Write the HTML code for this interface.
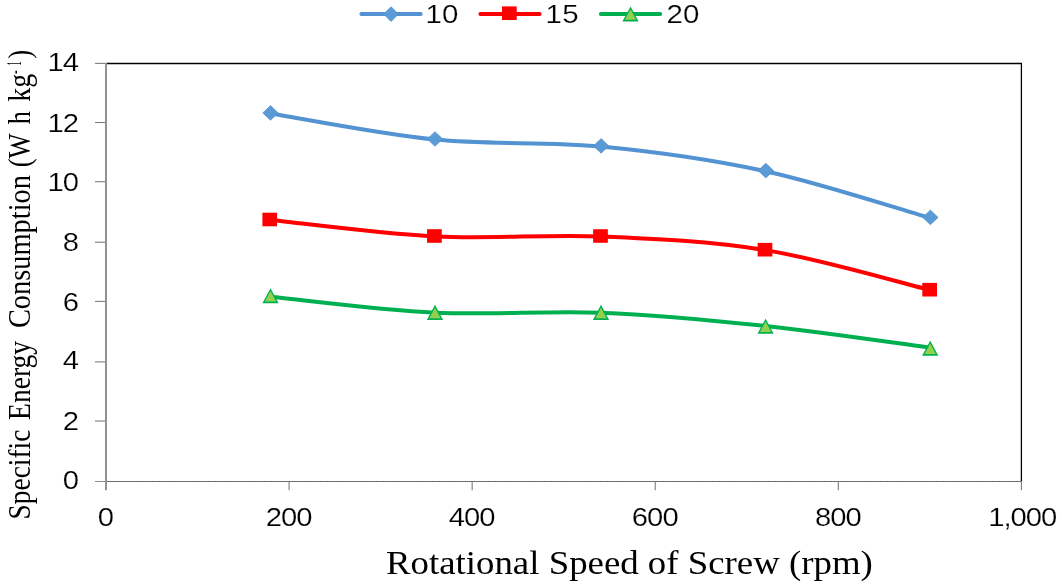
<!DOCTYPE html>
<html lang="en"><head><meta charset="utf-8"><title>Specific Energy Consumption vs Rotational Speed of Screw</title>
<style>html,body{margin:0;padding:0;background:#fff}body{width:1062px;height:587px;overflow:hidden}svg{display:block;will-change:transform}
.s{font-family:"Liberation Sans",sans-serif;fill:#000;stroke:#fff;stroke-width:0.2px}
.t{font-family:"Liberation Serif",serif;fill:#000}
</style></head><body>
<svg width="1062" height="587" viewBox="0 0 1062 587">
<rect width="1062" height="587" fill="#fff"/>
<path d="M106.00 63.50 H1021.40 V481.50" fill="none" stroke="#000" stroke-width="1.3"/>
<path d="M95 481.50 H1021.40" fill="none" stroke="#8e8e8e" stroke-width="1.2"/>
<path d="M106.5 481.50 H1021.40" fill="none" stroke="#555" stroke-width="1.2" stroke-dasharray="1 0.75"/>
<path d="M106.00 62.90 V490.2" fill="none" stroke="#929292" stroke-width="2"/>
<path d="M95 63.40 H105" stroke="#7d7d7d" stroke-width="1.1" fill="none"/>
<text class="s" transform="translate(77.92 71.20) scale(1.150 1)" font-size="25.4" letter-spacing="-0.85" text-anchor="end">14</text>
<path d="M95 122.50 H105" stroke="#7d7d7d" stroke-width="1.1" fill="none"/>
<text class="s" transform="translate(77.92 131.80) scale(1.150 1)" font-size="25.4" letter-spacing="-0.85" text-anchor="end">12</text>
<path d="M95 181.70 H105" stroke="#7d7d7d" stroke-width="1.1" fill="none"/>
<text class="s" transform="translate(77.92 190.80) scale(1.150 1)" font-size="25.4" letter-spacing="-0.85" text-anchor="end">10</text>
<path d="M95 242.20 H105" stroke="#7d7d7d" stroke-width="1.1" fill="none"/>
<text class="s" transform="translate(77.92 250.80) scale(1.150 1)" font-size="25.4" letter-spacing="-0.85" text-anchor="end">8</text>
<path d="M95 301.40 H105" stroke="#7d7d7d" stroke-width="1.1" fill="none"/>
<text class="s" transform="translate(77.92 310.50) scale(1.150 1)" font-size="25.4" letter-spacing="-0.85" text-anchor="end">6</text>
<path d="M95 361.90 H105" stroke="#7d7d7d" stroke-width="1.1" fill="none"/>
<text class="s" transform="translate(77.92 369.40) scale(1.150 1)" font-size="25.4" letter-spacing="-0.85" text-anchor="end">4</text>
<path d="M95 421.00 H105" stroke="#7d7d7d" stroke-width="1.1" fill="none"/>
<text class="s" transform="translate(77.92 430.00) scale(1.150 1)" font-size="25.4" letter-spacing="-0.85" text-anchor="end">2</text>
<text class="s" transform="translate(77.92 489.20) scale(1.150 1)" font-size="25.4" letter-spacing="-0.85" text-anchor="end">0</text>
<text class="s" transform="translate(105.51 526.40) scale(1.150 1)" font-size="25.4" letter-spacing="-0.85" text-anchor="middle">0</text>
<path d="M289.08 481.50 V490.2" stroke="#7d7d7d" stroke-width="1.1" fill="none"/>
<text class="s" transform="translate(288.59 526.40) scale(1.150 1)" font-size="25.4" letter-spacing="-0.85" text-anchor="middle">200</text>
<path d="M472.16 481.50 V490.2" stroke="#7d7d7d" stroke-width="1.1" fill="none"/>
<text class="s" transform="translate(471.67 526.40) scale(1.150 1)" font-size="25.4" letter-spacing="-0.85" text-anchor="middle">400</text>
<path d="M655.24 481.50 V490.2" stroke="#7d7d7d" stroke-width="1.1" fill="none"/>
<text class="s" transform="translate(654.75 526.40) scale(1.150 1)" font-size="25.4" letter-spacing="-0.85" text-anchor="middle">600</text>
<path d="M838.32 481.50 V490.2" stroke="#7d7d7d" stroke-width="1.1" fill="none"/>
<text class="s" transform="translate(837.83 526.40) scale(1.150 1)" font-size="25.4" letter-spacing="-0.85" text-anchor="middle">800</text>
<path d="M1021.40 481.50 V490.2" stroke="#7d7d7d" stroke-width="1.1" fill="none"/>
<text class="s" transform="translate(1022.21 526.40) scale(1.150 1)" font-size="25.4" letter-spacing="-0.85" text-anchor="middle">1,000</text>
<path d="M270.60 113.50 C298.03 117.85 380.17 134.10 435.20 139.60 C490.23 145.10 545.75 141.23 600.80 146.50 C655.85 151.77 710.62 159.28 765.50 171.20 C820.38 183.12 902.67 210.20 930.10 218.00" fill="none" stroke="#5393D2" stroke-width="4.0" stroke-linecap="round" stroke-linejoin="round"/>
<path d="M262.80 112.90 L270.50 105.60 L278.20 112.90 L270.50 120.20Z" fill="#5B9BD5" stroke="#4F8FCE" stroke-width="0.7"/>
<path d="M427.30 139.00 L435.00 131.70 L442.70 139.00 L435.00 146.30Z" fill="#5B9BD5" stroke="#4F8FCE" stroke-width="0.7"/>
<path d="M593.40 145.90 L601.10 138.60 L608.80 145.90 L601.10 153.20Z" fill="#5B9BD5" stroke="#4F8FCE" stroke-width="0.7"/>
<path d="M758.10 170.60 L765.80 163.30 L773.50 170.60 L765.80 177.90Z" fill="#5B9BD5" stroke="#4F8FCE" stroke-width="0.7"/>
<path d="M922.70 217.40 L930.40 210.10 L938.10 217.40 L930.40 224.70Z" fill="#5B9BD5" stroke="#4F8FCE" stroke-width="0.7"/>
<path d="M270.60 219.90 C298.03 222.65 380.17 233.65 435.20 236.40 C490.23 239.15 545.75 234.12 600.80 236.40 C655.85 238.68 710.62 241.15 765.50 250.10 C820.38 259.05 902.67 283.43 930.10 290.10" fill="none" stroke="#FF0000" stroke-width="4.0" stroke-linecap="round" stroke-linejoin="round"/>
<rect x="262.40" y="212.70" width="14.70" height="13.60" fill="#FF0000"/>
<rect x="427.05" y="229.20" width="14.70" height="13.60" fill="#FF0000"/>
<rect x="593.15" y="229.20" width="14.70" height="13.60" fill="#FF0000"/>
<rect x="757.65" y="242.90" width="14.70" height="13.60" fill="#FF0000"/>
<rect x="922.30" y="282.90" width="14.70" height="13.60" fill="#FF0000"/>
<path d="M270.60 296.70 C298.03 299.36 380.17 309.99 435.20 312.65 C490.23 315.31 545.75 310.42 600.80 312.65 C655.85 314.88 710.62 320.16 765.50 326.00 C820.38 331.84 902.67 344.08 930.10 347.70" fill="none" stroke="#00B050" stroke-width="4.0" stroke-linecap="round" stroke-linejoin="round"/>
<path d="M270.50 288.15 L278.60 303.25 L262.40 303.25Z" fill="#00B050"/><path d="M270.50 291.05 L276.13 301.55 L264.87 301.55Z" fill="#92D050"/>
<path d="M435.00 304.85 L443.10 319.95 L426.90 319.95Z" fill="#00B050"/><path d="M435.00 307.75 L440.63 318.25 L429.37 318.25Z" fill="#92D050"/>
<path d="M601.00 304.85 L609.10 319.95 L592.90 319.95Z" fill="#00B050"/><path d="M601.00 307.75 L606.63 318.25 L595.37 318.25Z" fill="#92D050"/>
<path d="M765.60 318.65 L773.70 333.75 L757.50 333.75Z" fill="#00B050"/><path d="M765.60 321.55 L771.23 332.05 L759.97 332.05Z" fill="#92D050"/>
<path d="M930.20 340.65 L938.30 355.75 L922.10 355.75Z" fill="#00B050"/><path d="M930.20 343.55 L935.83 354.05 L924.57 354.05Z" fill="#92D050"/>
<path d="M361.40 13.90 H420.70" stroke="#5393D2" stroke-width="4.0" stroke-linecap="round" fill="none"/>
<path d="M383.65 14.10 L391.05 6.70 L398.45 14.10 L391.05 21.50Z" fill="#5B9BD5" stroke="#4F8FCE" stroke-width="0.7"/>
<text class="s" transform="translate(425.50 23.2) scale(1.150 1)" font-size="25.6" letter-spacing="0.2">10</text>
<path d="M480.40 13.90 H539.60" stroke="#FF0000" stroke-width="4.0" stroke-linecap="round" fill="none"/>
<rect x="502.00" y="6.40" width="14.70" height="13.60" fill="#FF0000"/>
<text class="s" transform="translate(545.60 23.2) scale(1.150 1)" font-size="25.6" letter-spacing="0.2">15</text>
<path d="M600.90 13.90 H660.20" stroke="#00B050" stroke-width="4.0" stroke-linecap="round" fill="none"/>
<path d="M630.50 6.40 L638.60 21.50 L622.40 21.50Z" fill="#00B050"/><path d="M630.50 9.30 L636.13 19.80 L624.87 19.80Z" fill="#92D050"/>
<text class="s" transform="translate(666.40 23.2) scale(1.150 1)" font-size="25.6" letter-spacing="0.2">20</text>
<text class="t" transform="translate(386.0 573.9) scale(1.090 1)" font-size="33.8">Rotational Speed of Screw (rpm)</text>
<text class="t" transform="translate(30.00 519.40) rotate(-90) scale(0.9130 1.070)" font-size="30.0">Specific</text>
<text class="t" transform="translate(30.00 419.90) rotate(-90) scale(0.9175 1.070)" font-size="30.0">Energy</text>
<text class="t" transform="translate(30.00 328.10) rotate(-90) scale(0.9468 1.070)" font-size="30.0">Consumption</text>
<text class="t" transform="translate(30.00 167.30) rotate(-90) scale(0.8854 1.070)" font-size="30.0">(W</text>
<text class="t" transform="translate(30.00 124.30) rotate(-90) scale(0.8733 1.070)" font-size="30.0">h</text>
<text class="t" transform="translate(30.00 101.80) rotate(-90) scale(0.9300 1.070)" font-size="30.0">kg</text>
<text class="t" transform="translate(21.20 73.90) rotate(-90) scale(0.7411 1.450)" font-size="14.5">-</text>
<text class="t" transform="translate(21.40 65.50) rotate(-90) scale(0.5379 1.470)" font-size="14.5">1</text>
<text class="t" transform="translate(30.00 58.60) rotate(-90) scale(0.8557 1.070)" font-size="30.0">)</text>
</svg></body></html>
